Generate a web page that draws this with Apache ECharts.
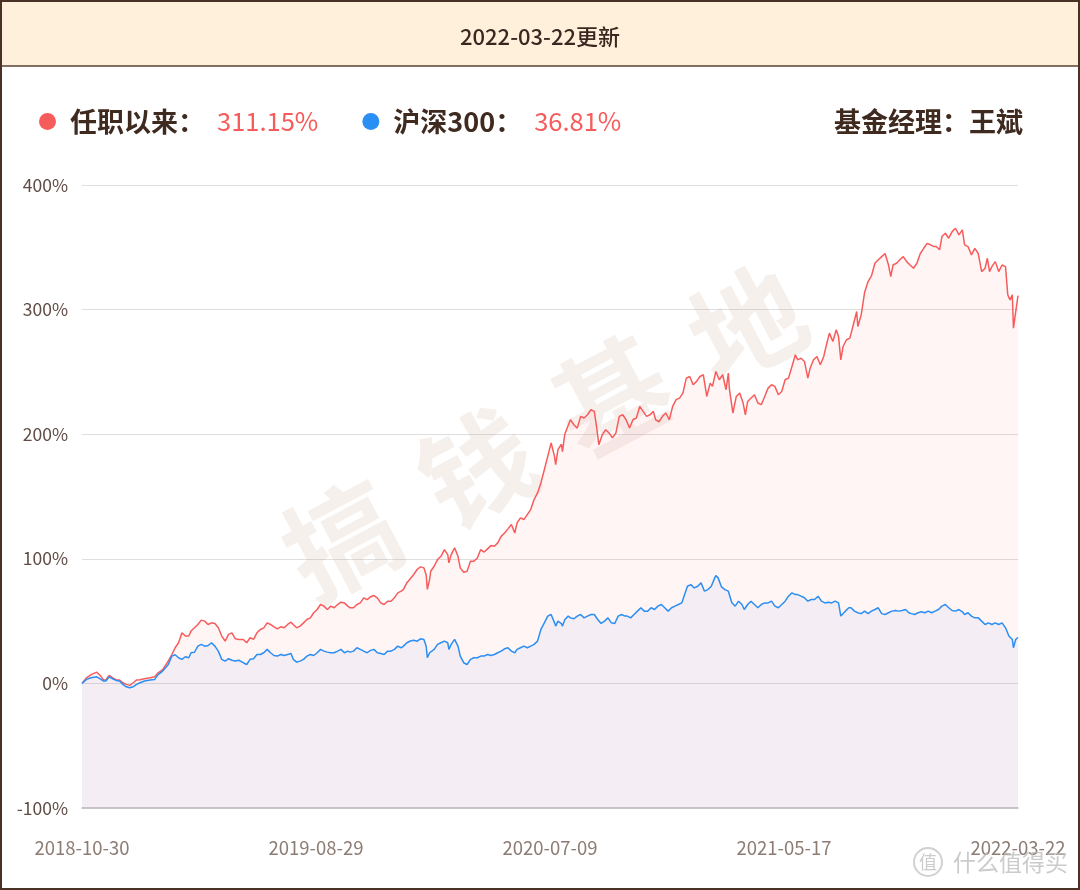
<!DOCTYPE html>
<html>
<head>
<meta charset="utf-8">
<script src="https://cdn.jsdelivr.net/npm/echarts@6/dist/echarts.min.js"></script>
<style>
html,body{margin:0;padding:0;background:#fff;}
#c{width:1080px;height:890px;}
</style>
</head>
<body>
<div id="c"></div>
<script>
const tickLabels = ['2018-10-30','2019-08-29','2020-07-09','2021-05-17','2022-03-22'];
const updateText = '2022-03-22更新';
const managerText = '基金经理：王斌';
const seriesNames = ['任职以来','沪深300'];
const seriesReturns = ['311.15%','36.81%'];

const fundDays = [0,4,8,13,16,19,21,24,27,30,33,36,39,42,45,48,51,55,60,64,67,71,76,79,82,85,88,91,94,96,99,102,105,108,111,114,117,120,123,126,129,132,135,138,142,145,148,151,154,157,160,163,166,169,172,175,178,181,184,186,189,192,195,198,201,204,207,210,213,216,219,222,225,228,231,234,236,239,242,245,248,251,254,257,260,263,266,269,272,275,278,281,283,286,289,292,295,298,301,303,304,306,307,310,313,316,319,322,323,325,328,331,333,336,339,342,345,348,351,354,357,360,363,366,369,372,375,378,381,383,386,389,392,395,398,401,404,407,410,413,416,417,419,422,423,425,428,430,433,436,439,442,445,448,451,453,455,458,461,464,467,470,473,476,479,482,485,488,491,494,497,500,503,505,508,511,514,517,520,523,526,529,532,535,538,541,544,547,550,553,555,558,561,564,567,569,570,573,576,579,582,584,586,589,592,595,598,601,604,607,610,613,616,619,622,625,628,630,633,636,639,641,644,647,650,653,655,658,661,664,666,668,670,673,676,679,682,683,686,689,692,695,698,701,704,707,710,712,714,717,720,723,726,729,732,735,738,741,744,747,750,752,755,757,760,763,766,769,772,775,777,780,783,786,789,792,795,797,799,801,804,807,810,813,815,817,819,820,822,824];
const fundValues = [0,4.5,7,9,6.4,2.7,3,6.4,4.5,3,2.7,0.5,-0.8,-1.6,0.5,2.7,3,3.7,4.5,5.3,8.5,11,18,23,28.6,32.6,40.6,38,38,42,44.6,47.3,50.8,50,47.3,48.6,48,44.6,38,34,39.3,40.6,35.8,35.3,35.3,32.6,36.6,35.3,40.6,43.3,44.6,48.6,47.3,45.4,43.8,45.4,44.6,47.3,49.1,47.3,44.6,46,48.6,51.3,52.6,56.7,59.3,63.3,62,59.3,62,60.7,63.3,65.2,64.6,62,60.7,60.7,63.3,64.6,68.7,67.3,69.5,70.5,68.7,64.6,63.3,66,66,68.7,72.7,74,75.4,80.7,84,87.4,91.4,93.5,92.7,87,75.4,83.4,90,94,99.4,102,107.4,103.4,96.7,103.4,108.8,102,92.7,89.2,90,98,98,100.7,107.4,105.4,108,110.6,110,112.8,118,120.7,124,127.5,120.7,128.8,132.8,131.5,135.5,139.5,147.5,152.9,160.9,171.5,182.2,193,182,175.5,187.6,192,186,200,207,211.6,207.6,204.9,214.3,213,215.6,219.6,218.3,206,191.6,199.6,203.6,201,197,201,214.3,215.6,211.6,205,211.6,213,222.3,218.3,214.3,215.6,218.3,211.6,210,214.3,217,211.6,222.3,227.7,229,233,245,246.3,239.7,242.4,246.3,247.7,230.3,241,238.4,250.3,243.7,247.7,235.7,249,235.7,217,230.3,233,225,215.6,226.3,229,231.7,225,223.7,230.3,237,239.7,238.4,231.7,234.3,243.7,245,254.4,263.7,259.7,261,258.4,245,253,259.7,262.4,255.7,262.4,270.4,281.1,274.4,283.8,278.5,259.7,270.4,275.8,277.1,287.8,298.5,286.4,296,314,322.5,327,337.2,340,342.5,345,335.8,326.5,335.8,337.2,340,342.5,338.5,335.8,333.2,337.2,345,349.2,353.2,352,350.6,350.6,348,358.6,361.3,357.3,362.6,365.3,360,364,351.9,350.6,343.9,349.2,345,330.5,333.2,341.2,330.5,334.5,338.5,330.5,335.8,334.5,311.8,307.8,311.8,285.1,298.4,311.15];

const hsDays = [0,4,8,13,16,19,21,24,27,30,33,36,39,42,45,48,51,55,60,64,67,71,76,79,82,85,88,91,94,96,99,102,105,108,111,114,117,120,123,126,129,132,135,138,142,145,148,151,154,157,160,163,166,169,172,175,178,181,184,186,189,192,195,198,201,204,207,210,213,216,219,222,225,228,231,234,236,239,242,245,248,251,254,257,260,263,266,269,272,275,278,281,283,286,289,292,295,298,301,303,304,306,307,310,313,316,319,322,323,325,328,331,333,336,339,342,345,348,351,354,357,360,363,366,369,372,375,378,381,383,386,389,392,395,398,401,404,407,410,413,416,417,419,422,423,425,428,430,433,436,439,442,445,448,451,454,457,460,463,466,469,472,475,478,480,483,486,489,492,495,498,501,504,507,510,513,516,519,522,525,528,530,533,536,539,542,545,548,551,554,557,558,560,563,566,569,572,575,578,581,583,586,589,592,595,598,601,604,607,610,613,616,619,622,625,628,630,633,636,639,642,645,648,651,654,657,660,663,666,668,672,675,677,680,683,686,689,692,695,698,701,704,707,710,713,716,719,722,725,728,730,733,736,739,742,745,748,751,754,757,760,763,766,769,772,775,777,780,783,786,789,792,795,798,801,804,807,810,813,816,819,820,822,824];
const hsValues = [0,3.2,4.5,5.3,3.7,1.9,1.9,5.3,3.7,2.4,1.9,-0.8,-2.7,-3.5,-2.7,-0.8,0.5,1.9,2.7,3.2,7,9.9,15.2,21.9,23,20.6,19.3,21.4,20.6,24.6,25,29.9,31.3,29.9,30.4,32.6,29.9,25.9,19.3,17.9,19.8,18.6,17.9,18.6,16.6,15.2,19.3,19.8,23.2,23.2,24.6,27.3,24.6,22.4,21.9,23.2,22.4,23.2,24,19.3,17.1,17.9,19.3,21.9,23.2,22.4,24.6,27.3,25.9,25.1,24.6,24.6,25.9,27.3,24.6,25.9,25.1,25.9,28.6,27.3,25.9,24.6,26.5,27.3,24.6,24,23.2,25.9,25.9,27.3,29.9,28.6,29.9,32.6,34,34.7,33.9,35.8,35.3,29.9,20.6,24.6,25.9,27.3,31.3,32.6,33.9,32.6,27.3,31.3,35.3,29.9,21.9,16.6,15.2,19.3,20.6,20.6,21.9,21.9,23.2,22.4,23.2,24.6,25.9,27.8,28.6,25.9,24.6,27.3,28.6,29.9,28.6,29.9,31.3,33.9,43.3,48.6,54,55.3,48.6,46,50,48,46,51,54,52.6,51.9,54,55.3,52.6,54,55.3,55.3,51.3,48.1,50,52.6,48.6,48.1,54,55.3,54,54,52.6,55.3,58,60.7,58,58,60.7,59.3,62,63.3,60.7,58,60.7,62,63.3,64.6,70,78,79.3,76.6,78,80.7,74,75.3,78,84.7,86.5,84.7,77.4,75.3,74,65,62,66,63.3,59.3,63.3,66,63.3,60.7,63.3,64.6,64.6,66,62,60.7,63.3,66,70,72.7,71.3,71.3,70,68.7,66,67.3,67.3,70,66,64.6,65.1,64.6,66,64.6,54,58,60.7,60.7,58,56.7,56,58,56,58,59.3,60.7,56,55.3,56.7,58,58.5,58,58.5,59.3,56.7,56,55.3,56.7,57.5,56.7,58,56.7,58,59.3,62,63.3,60.7,58.5,58,59.3,57.5,55.3,56.7,54,52.6,52.6,50,47.3,48.6,47.3,48.6,47.3,48.6,44.6,38,35.3,28.6,35.3,36.81];

const DAY_MAX = 824;
const DAY_STEP = 206;
const FONT = '"Noto Sans CJK SC","Noto Sans",sans-serif';
const RED = '#f75c5c';
const BLUE = '#2a8ef2';
const BROWN = '#3f2a20';

const chart = echarts.init(document.getElementById('c'), null, {renderer:'canvas'});

const wm = ['搞','钱','基','地'];
const wmPos = [[342,540],[477,468],[612,396],[747,324]];

const option = {
  animation:false,
  backgroundColor:'#ffffff',
  grid:{left:82,right:62,top:185,bottom:82},
  legend:{
    left:34, top:103, icon:'circle', itemWidth:17, itemHeight:17, itemGap:44,
    selectedMode:false,
    data:[{name:seriesNames[0],itemStyle:{color:RED}},{name:seriesNames[1],itemStyle:{color:BLUE}}],
    formatter:function(name){
      const i = seriesNames.indexOf(name);
      return '{n|' + name + '：}{v|' + seriesReturns[i] + '}';
    },
    textStyle:{
      fontFamily:FONT,
      rich:{
        n:{fontSize:27,fontWeight:'bold',color:BROWN,fontFamily:FONT,padding:[0,12,0,9]},
        v:{fontSize:25.5,color:RED,fontFamily:FONT}
      }
    }
  },
  xAxis:{
    type:'value', min:0, max:DAY_MAX, interval:DAY_STEP,
    axisLine:{onZero:false,lineStyle:{color:'#bdbdbd',width:1.5}},
    axisTick:{show:false},
    splitLine:{show:false},
    axisLabel:{
      margin:31, color:'#8d7c74', fontSize:18.5, fontFamily:FONT,
      showMinLabel:true, showMaxLabel:true,
      formatter:function(v){ return tickLabels[Math.round(v/DAY_STEP)] || ''; }
    }
  },
  yAxis:{
    type:'value', min:-100, max:400, interval:100,
    axisLine:{show:false}, axisTick:{show:false},
    splitLine:{lineStyle:{color:'#dedede',width:1}},
    axisLabel:{formatter:'{value}%', color:'#5f4c44', fontSize:17.5, fontFamily:FONT, margin:14}
  },
  graphic:[
    {type:'rect', z:-10, silent:true, shape:{x:0,y:0,width:1080,height:66}, style:{fill:'#fff0dc'}},
    {type:'line', z:100, silent:true, shape:{x1:0,y1:66,x2:1080,y2:66}, style:{stroke:'#5a4035',lineWidth:1.5}},
    {type:'rect', z:100, silent:true, shape:{x:1,y:1,width:1078,height:888}, style:{fill:'none',stroke:'#4a3126',lineWidth:2}},
    {type:'text', z:100, silent:true, x:540, y:37, style:{text:updateText, font:'500 22px '+FONT, fill:'#3a2820', textAlign:'center', textVerticalAlign:'middle'}},
    {type:'text', z:100, silent:true, x:1023, y:122, style:{text:managerText, font:'bold 27px '+FONT, fill:BROWN, textAlign:'right', textVerticalAlign:'middle'}},
    {type:'circle', z:100, silent:true, shape:{cx:928,cy:862,r:14}, style:{fill:'none',stroke:'rgba(190,190,190,0.7)',lineWidth:2}},
    {type:'text', z:100, silent:true, x:928, y:862, style:{text:'值', font:'18px '+FONT, fill:'rgba(190,190,190,0.8)', textAlign:'center', textVerticalAlign:'middle'}},
    {type:'text', z:100, silent:true, x:953, y:862, style:{text:'什么值得买', font:'23px '+FONT, fill:'rgba(190,190,190,0.8)', textAlign:'left', textVerticalAlign:'middle'}}
  ].concat(wm.map(function(ch,i){
    return {type:'text', z:1, silent:true, x:wmPos[i][0], y:wmPos[i][1], rotation:0.49,
      style:{text:ch, font:'bold 112px '+FONT, fill:'rgba(200,160,140,0.16)', textAlign:'center', textVerticalAlign:'middle'}};
  })),
  series:[
    {name:seriesNames[0], type:'line', showSymbol:false, z:3,
     data:fundDays.map(function(d,i){return [d,fundValues[i]];}),
     lineStyle:{color:RED,width:1.5}, itemStyle:{color:RED},
     areaStyle:{color:'rgba(248,92,92,0.085)', origin:'start'}},
    {name:seriesNames[1], type:'line', showSymbol:false, z:4,
     data:hsDays.map(function(d,i){return [d,hsValues[i]];}),
     lineStyle:{color:BLUE,width:1.5}, itemStyle:{color:BLUE},
     areaStyle:{color:'rgba(93,160,240,0.1)', origin:'start'}}
  ]
};
chart.setOption(option);
</script>
</body>
</html>
